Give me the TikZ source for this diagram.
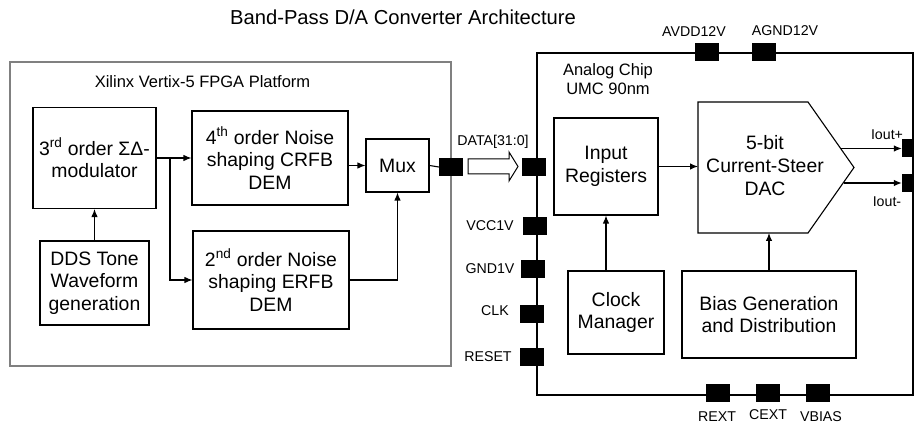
\documentclass[tikz,border=0pt]{standalone}
\usepackage{fontspec}
\setmainfont{Liberation Sans}
\usetikzlibrary{arrows.meta}
\begin{document}
\begin{tikzpicture}[x=1pt,y=-1pt,
  blk/.style={draw, line width=1.1pt, align=center, inner sep=0pt, font=\fontsize{19.4}{22.5}\selectfont},
  pad/.style={fill=black, draw=none, minimum width=24pt, minimum height=18pt, inner sep=0pt},
  lbl/.style={font=\fontsize{14.2}{16}\selectfont, inner sep=0pt},
  sect/.style={font=\fontsize{16.5}{18.5}\selectfont, inner sep=0pt, align=center},
  arr/.style={-{Latex[length=8pt,width=6.5pt]}, line width=1.1pt},
  wire/.style={line width=1.1pt}]
\useasboundingbox (0,0) rectangle (914,430);
\fill[white] (0,0) rectangle (914,430);

% title
\node[font=\fontsize{20.2}{22}\selectfont, inner sep=0pt] (title) at (403,17) {Band-Pass D/A Converter Architecture};

% FPGA platform
\node[draw=black!50, line width=1.6pt, minimum width=441pt, minimum height=304pt, inner sep=0pt] (fpga) at (230.5,214) {};
\node[sect] (fpgalbl) at (202.5,82) {Xilinx Vertix-5 FPGA Platform};

\node[blk, minimum width=123pt, minimum height=101pt] (third) at (94.5,158) {3\textsuperscript{rd} order ΣΔ-\\modulator};
\node[blk, minimum width=109pt, minimum height=84pt] (dds) at (94.5,283) {DDS Tone\\Waveform\\generation};
\node[blk, minimum width=156pt, minimum height=94pt] (fourth) at (270,158) {4\textsuperscript{th} order Noise\\shaping CRFB\\DEM};
\node[blk, minimum width=156pt, minimum height=98pt] (second) at (271,280) {2\textsuperscript{nd} order Noise\\shaping ERFB\\DEM};
\node[blk, minimum width=63pt, minimum height=53pt] (mux) at (397.5,165.5) {Mux};
\node[pad] (pout) at (451,167) {};

\coordinate (br) at (170,158);
\draw[arr] (dds.north) -- (third.south);
\draw[arr] (third.east) -- (fourth.west);
\draw[arr] (br) |- (second.west);
\draw[arr] (mux.west -| fourth.east) -- (mux.west);
\draw[arr] (second.east) -| (mux.south);
\draw[wire] (mux.east) -- (pout.west);

% analog chip
\node[draw, line width=1.1pt, minimum width=376pt, minimum height=342pt, inner sep=0pt] (chip) at (725,224) {};
\node[sect] (chiplbl) at (608,79) {Analog Chip\\UMC 90nm};

\node[pad] (pdata) at (534,167) {};
\node[pad] (pvcc) at (535,226) {};
\node[pad] (pgnd) at (532.5,269) {};
\node[pad] (pclk) at (531.5,314) {};
\node[pad] (prst) at (531.5,357) {};
\node[pad] (prext) at (717.5,393) {};
\node[pad] (pcext) at (767.5,393) {};
\node[pad] (pvbias) at (817.5,393) {};
\node[pad] (pavdd) at (706.5,52.5) {};
\node[pad] (pagnd) at (764,52.5) {};
\node[pad] (piop) at (914,148.5) {};
\node[pad] (pion) at (914,183) {};

\node[lbl] (ldata) at (493,142) {DATA[31:0]};
\node[lbl] (lvcc) at (490,226) {VCC1V};
\node[lbl] (lgnd) at (490,269) {GND1V};
\node[lbl] (lclk) at (495,311) {CLK};
\node[lbl] (lrst) at (488,357) {RESET};
\node[lbl] (lrext) at (717,417) {REXT};
\node[lbl] (lcext) at (768,415) {CEXT};
\node[lbl] (lvbias) at (821,417) {VBIAS};
\node[lbl] (lavdd) at (694,32) {AVDD12V};
\node[lbl] (lagnd) at (785,31) {AGND12V};
\node[lbl] (liop) at (887,135) {Iout+};
\node[lbl] (lion) at (887,202) {Iout-};

% hollow bus arrow
\draw[line width=1pt, fill=white] (468,159) -- (509,159) -- (509,152) -- (518,166.5) -- (509,181) -- (509,174) -- (468,174) -- cycle;

\node[blk, minimum width=104pt, minimum height=97pt] (inreg) at (606,166.5) {Input\\Registers};
\node[blk, minimum width=96pt, minimum height=83pt] (clkm) at (616,312.5) {Clock\\Manager};
\node[blk, minimum width=174pt, minimum height=87pt] (bias) at (769,314.5) {Bias Generation\\and Distribution};

% DAC
\draw[line width=1.1pt] (698,102) -- (808,102) -- (854,167.5) -- (808,233) -- (698,233) -- cycle;
\node[align=center, inner sep=0pt, font=\fontsize{19.4}{23}\selectfont] (dac) at (765,166) {5-bit\\Current-Steer\\DAC};
\coordinate (dacL) at (698,166.5);
\coordinate (dacB) at (769,233);
\coordinate (dacOp) at (840.5,148.5);
\coordinate (dacOn) at (843.5,183);

\draw[arr] (inreg.east) -- (dacL);
\draw[arr] (inreg.south |- clkm.north) -- (inreg.south);
\draw[arr] (bias.north) -- (dacB);
\draw[arr] (dacOp) -- (piop.west);
\draw[arr] (dacOn) -- (pion.west);
\end{tikzpicture}
\end{document}
